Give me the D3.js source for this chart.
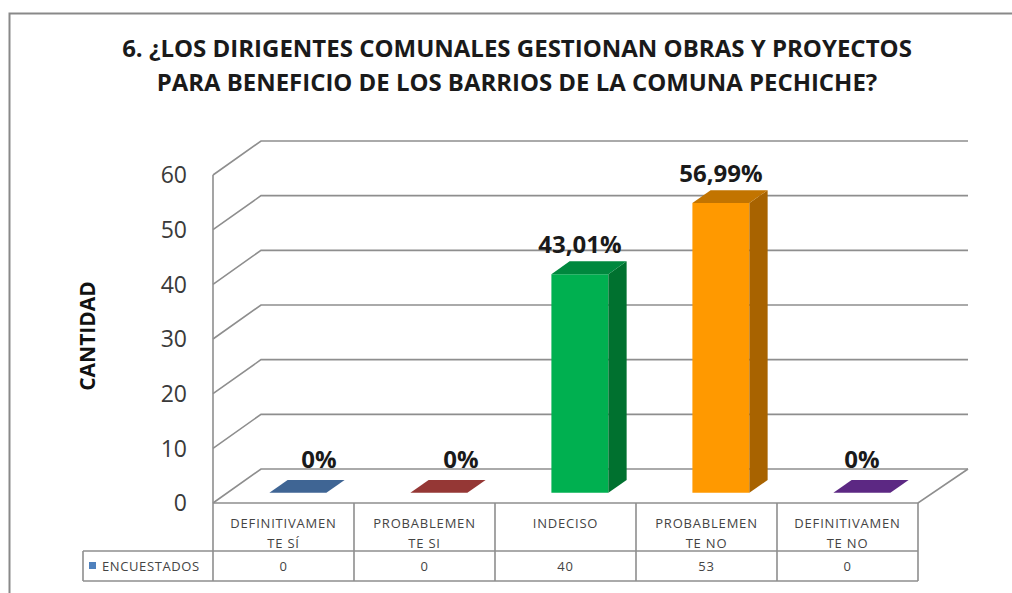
<!DOCTYPE html>
<html><head><meta charset="utf-8">
<script src="https://cdn.jsdelivr.net/npm/d3@7/dist/d3.min.js"></script>
<style>body{margin:0;background:#fff}svg{display:block}</style>
</head><body>
<svg id="c" width="1012" height="593"></svg>
<script>
const titleLines = ["6. ¿LOS DIRIGENTES COMUNALES GESTIONAN OBRAS Y PROYECTOS", "PARA BENEFICIO DE LOS BARRIOS DE LA COMUNA PECHICHE?"];
const categories = ["DEFINITIVAMENTE SÍ", "PROBABLEMENTE SI", "INDECISO", "PROBABLEMENTE NO", "DEFINITIVAMENTE NO"];
const categoryLines = [["DEFINITIVAMEN","TE SÍ"],["PROBABLEMEN","TE SI"],["INDECISO"],["PROBABLEMEN","TE NO"],["DEFINITIVAMEN","TE NO"]];
const values = [0, 0, 40, 53, 0];
const percentLabels = ["0%", "0%", "43,01%", "56,99%", "0%"];
const seriesName = "ENCUESTADOS";
const yTicks = [0, 10, 20, 30, 40, 50, 60];
const yTitle = "CANTIDAD";

const frontColors = ["#3F6594", "#953735", "#00B050", "#FF9900", "#5C2883"];
const sideColors  = ["#2E4B70", "#6E2826", "#00712F", "#A86300", "#43205F"];
const topColors   = ["#3F6594", "#953735", "#00883E", "#C27400", "#5C2883"];

const svg = d3.select("#c");
const FONT = "'Open Sans', 'Liberation Sans', sans-serif";
const grid = "#8E8E8E";

// outer frame
svg.append("rect").attr("x", 9.5).attr("y", 13.5).attr("width", 1100).attr("height", 700)
  .attr("fill", "none").attr("stroke", "#898989").attr("stroke-width", 2);

// title
function fitText(sel, target) {
  const w = sel.node().getComputedTextLength();
  const fs = parseFloat(sel.attr("font-size"));
  sel.attr("font-size", fs * target / w);
}
const titleWidths = [790, 721];
titleLines.forEach((t, i) => {
  const tx = svg.append("text").attr("x", 517).attr("y", 57 + i * 34)
    .attr("text-anchor", "middle").attr("font-family", FONT).attr("font-weight", "bold")
    .attr("font-size", 20).attr("fill", "#1a1a1a").text(t);
  fitText(tx, titleWidths[i]);
});

// scales
const x = d3.scaleBand().domain(categories).range([213, 918]).padding(0);
const y = d3.scaleLinear().domain([0, 60]).range([503, 175]);
const DX = 48, DY = -34;     // floor depth offset
const f0 = 0.30, f1 = 0.68;  // bar depth fractions
const barW = 57;
const P = (px, py, f) => [px + DX * f, py + DY * f];

// walls & grid
const g = svg.append("g").attr("fill", "none").attr("stroke", grid).attr("stroke-width", 1.6);
yTicks.forEach(t => {
  const [bx, by] = P(213, y(t), 1);
  g.append("path").attr("d", `M213,${y(t)}L${bx},${by}L968,${by}`);
});
g.append("line").attr("x1", 213).attr("x2", 213).attr("y1", y(60)).attr("y2", y(0));
g.append("path").attr("d", `M968,${y(0) + DY}L918,${y(0)}L213,${y(0)}`);

// y tick labels
svg.append("g").selectAll("text").data(yTicks).join("text")
  .attr("x", 187).attr("y", d => y(d)).attr("dy", "0.36em").attr("text-anchor", "end")
  .attr("font-family", FONT).attr("font-size", 23).attr("fill", "#3a3a3a").text(d => d);

// y title
svg.append("text").attr("transform", "translate(95,336) rotate(-90)").attr("text-anchor", "middle")
  .attr("font-family", FONT).attr("font-weight", "bold").attr("font-size", 21).attr("fill", "#111").text(yTitle);

// bars
const bars = svg.append("g");
values.forEach((v, i) => {
  const cx = x(categories[i]) + x.bandwidth() / 2;
  const xl = cx - barW / 2, xr = cx + barW / 2;
  const yt = y(v), yb = y(0);
  const A = P(xl, yt, f0), B = P(xr, yt, f0), C = P(xr, yb, f0), D = P(xl, yb, f0);
  const A1 = P(xl, yt, f1), B1 = P(xr, yt, f1), C1 = P(xr, yb, f1);
  const poly = pts => "M" + pts.map(p => p.join(",")).join("L") + "Z";
  if (v > 0) {
    bars.append("path").attr("d", poly([A, B, C, D])).attr("fill", frontColors[i]);
    bars.append("path").attr("d", poly([B, B1, C1, C])).attr("fill", sideColors[i]);
  }
  bars.append("path").attr("d", poly([A, A1, B1, B])).attr("fill", topColors[i]);
});

// data labels
const labelShift = [21, 22, 0, 0, 0];
svg.append("g").selectAll("text").data(values).join("text")
  .attr("x", (d, i) => x(categories[i]) + x.bandwidth() / 2 + DX * f0 + labelShift[i])
  .attr("y", d => y(d) + DY * f1 - (d > 0 ? 8 : 12))
  .attr("text-anchor", "middle").attr("font-family", FONT).attr("font-weight", "bold")
  .attr("font-size", 24).attr("fill", "#1a1a1a").text((d, i) => percentLabels[i]);

// data table
const rowTop = y(0), rowMid = 551, rowBot = 581;
const tg = svg.append("g").attr("stroke", grid).attr("stroke-width", 1.6).attr("fill", "none");
tg.append("line").attr("x1", 83).attr("x2", 918).attr("y1", rowMid).attr("y2", rowMid);
tg.append("line").attr("x1", 83).attr("x2", 918).attr("y1", rowBot).attr("y2", rowBot);
tg.append("line").attr("x1", 83).attr("x2", 83).attr("y1", rowMid).attr("y2", rowBot);
const bounds = categories.map(c => x(c)).concat([x.range()[1]]);
bounds.forEach(bx => tg.append("line").attr("x1", bx).attr("x2", bx).attr("y1", rowTop).attr("y2", rowBot));

const tt = svg.append("g").attr("font-family", FONT).attr("font-size", 13).attr("letter-spacing", 0.8)
  .attr("fill", "#444").attr("text-anchor", "middle");
categoryLines.forEach((lines, i) => {
  const cx = x(categories[i]) + x.bandwidth() / 2;
  lines.forEach((l, k) => tt.append("text").attr("x", cx).attr("y", 527.5 + k * 20).text(l));
  tt.append("text").attr("x", cx).attr("y", 571).text(values[i]);
});
svg.append("rect").attr("x", 89).attr("y", 562).attr("width", 7).attr("height", 7).attr("fill", "#4F81BD");
svg.append("text").attr("x", 102).attr("y", 571).attr("font-family", FONT).attr("font-size", 13)
  .attr("letter-spacing", 0.6).attr("fill", "#444").text(seriesName);
</script>
</body></html>
